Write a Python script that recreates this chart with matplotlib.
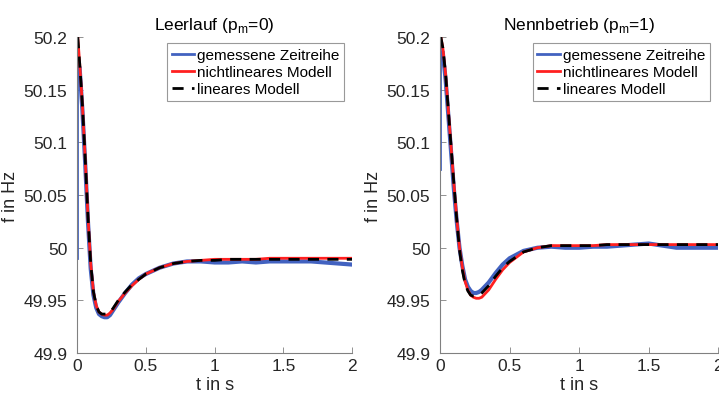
import numpy as np
import matplotlib.pyplot as plt

plt.rcParams['font.family'] = ['Liberation Sans', 'DejaVu Sans']

# Zeitachse (s)
t = [0, 0.02, 0.04, 0.06, 0.08, 0.10, 0.12, 0.14, 0.16, 0.18, 0.20, 0.22, 0.24,
     0.26, 0.28, 0.30, 0.35, 0.40, 0.45, 0.50, 0.60, 0.70, 0.80, 0.90, 1.00,
     1.10, 1.20, 1.30, 1.40, 1.50, 1.60, 1.70, 1.80, 1.90, 2.00]
# Modelle beginnen minimal nach dem Messsprung
t_modell = [0.006] + t[1:]

# Leerlauf (p_m = 0)
leer_mess = [49.99, 50.17, 50.13, 50.08, 50.025, 49.98, 49.955, 49.943, 49.937, 49.935, 49.934,
             49.934, 49.936, 49.94, 49.944, 49.948, 49.957, 49.965, 49.971, 49.975, 49.981,
             49.985, 49.987, 49.987, 49.986, 49.986, 49.987, 49.986, 49.987, 49.987, 49.987,
             49.987, 49.986, 49.985, 49.984]
leer_nlin = [50.2, 50.175, 50.135, 50.085, 50.03, 49.985, 49.958, 49.945, 49.939, 49.937, 49.936,
             49.936, 49.938, 49.941, 49.945, 49.949, 49.957, 49.964, 49.97, 49.975, 49.981,
             49.985, 49.987, 49.988, 49.989, 49.989, 49.989, 49.989, 49.99, 49.99, 49.99,
             49.99, 49.99, 49.99, 49.99]
leer_lin = [50.2, 50.175, 50.135, 50.085, 50.03, 49.985, 49.958, 49.945, 49.939, 49.937, 49.937,
            49.937, 49.939, 49.942, 49.946, 49.95, 49.958, 49.965, 49.97, 49.975, 49.981,
            49.985, 49.987, 49.988, 49.988, 49.989, 49.989, 49.989, 49.989, 49.989, 49.989,
            49.989, 49.989, 49.989, 49.989]

# Nennbetrieb (p_m = 1)
nenn_mess = [50.075, 50.185, 50.16, 50.125, 50.09, 50.055, 50.025, 50.0, 49.983, 49.97, 49.963,
             49.959, 49.957, 49.957, 49.958, 49.96, 49.967, 49.976, 49.984, 49.99, 49.997,
             50.0, 50.001, 50.0, 50.0, 50.001, 50.001, 50.002, 50.003, 50.004, 50.002,
             50.0, 50.0, 50.0, 50.0]
nenn_nlin = [50.2, 50.19, 50.165, 50.13, 50.095, 50.06, 50.028, 50.0, 49.982, 49.968, 49.96,
             49.955, 49.953, 49.952, 49.952, 49.953, 49.96, 49.97, 49.979, 49.986, 49.996,
             50.0, 50.002, 50.002, 50.002, 50.002, 50.003, 50.003, 50.003, 50.003, 50.003,
             50.003, 50.003, 50.003, 50.003]
nenn_lin = [50.2, 50.19, 50.165, 50.13, 50.095, 50.06, 50.027, 49.998, 49.979, 49.966, 49.959,
            49.955, 49.954, 49.954, 49.955, 49.957, 49.964, 49.973, 49.981, 49.987, 49.996,
            50.0, 50.002, 50.002, 50.002, 50.002, 50.003, 50.003, 50.003, 50.003, 50.003,
            50.003, 50.003, 50.003, 50.003]

titel = ['Leerlauf (p$_\\mathregular{m}$=0)', 'Nennbetrieb (p$_\\mathregular{m}$=1)']
yticks = [49.9, 49.95, 50, 50.05, 50.1, 50.15, 50.2]
ytick_labels = ['49.9', '49.95', '50', '50.05', '50.1', '50.15', '50.2']
xticks = [0, 0.5, 1, 1.5, 2]
xtick_labels = ['0', '0.5', '1', '1.5', '2']

blau = '#4262c0'
rot = '#ff2020'
grau = '#262626'

fig = plt.figure(figsize=(7.19, 4.06), dpi=100)
ax1 = fig.add_axes([0.107, 0.128, 0.383, 0.778])
ax2 = fig.add_axes([0.612, 0.128, 0.387, 0.778])

daten = [(leer_mess, leer_nlin, leer_lin), (nenn_mess, nenn_nlin, nenn_lin)]

for i, ax in enumerate([ax1, ax2]):
    mess, nlin, lin = daten[i]
    # gemessene Zeitreihe: senkrechter Sprung bei t=0
    ax.plot([t[0], t[0]], [mess[0], 50.2], color=blau, lw=2)
    ax.plot(t[1:], mess[1:], color=blau, lw=3)
    ax.plot([], [], color=blau, lw=2, label='gemessene Zeitreihe')
    ax.plot(t_modell, nlin, color=rot, lw=2, label='nichtlineares Modell')
    ax.plot(t_modell, lin, color='black', lw=2, ls=(0, (4, 3)), label='lineares Modell')

    ax.set_xlim(0, 2)
    ax.set_ylim(49.9, 50.2)
    ax.set_xticks(xticks)
    ax.set_xticklabels(xtick_labels)
    ax.set_yticks(yticks)
    ax.set_yticklabels(ytick_labels)
    ax.tick_params(direction='in', labelsize=12.5, length=4, width=0.6,
                   colors='#808080', labelcolor=grau)
    ax.tick_params(axis='y', pad=7)
    for s in ['top', 'right']:
        ax.spines[s].set_visible(False)
    for s in ['left', 'bottom']:
        ax.spines[s].set_color('#808080')
        ax.spines[s].set_linewidth(0.8)
    ax.set_title(titel[i], fontsize=12.5, color='black', pad=6)
    ax.set_xlabel('t in s', fontsize=13, color=grau, labelpad=2)
    ax.set_ylabel('f in Hz', fontsize=13, color=grau, labelpad=3)
    leg = ax.legend(loc='upper right', bbox_to_anchor=(0.98, 0.99), fontsize=11,
                    frameon=True, fancybox=False, handlelength=1.5, handletextpad=0.15,
                    borderpad=0.3, labelspacing=0.2, borderaxespad=0.2)
    leg.get_frame().set_edgecolor('#808080')
    leg.get_frame().set_linewidth(0.8)

fig.savefig('out.png', dpi=100)
